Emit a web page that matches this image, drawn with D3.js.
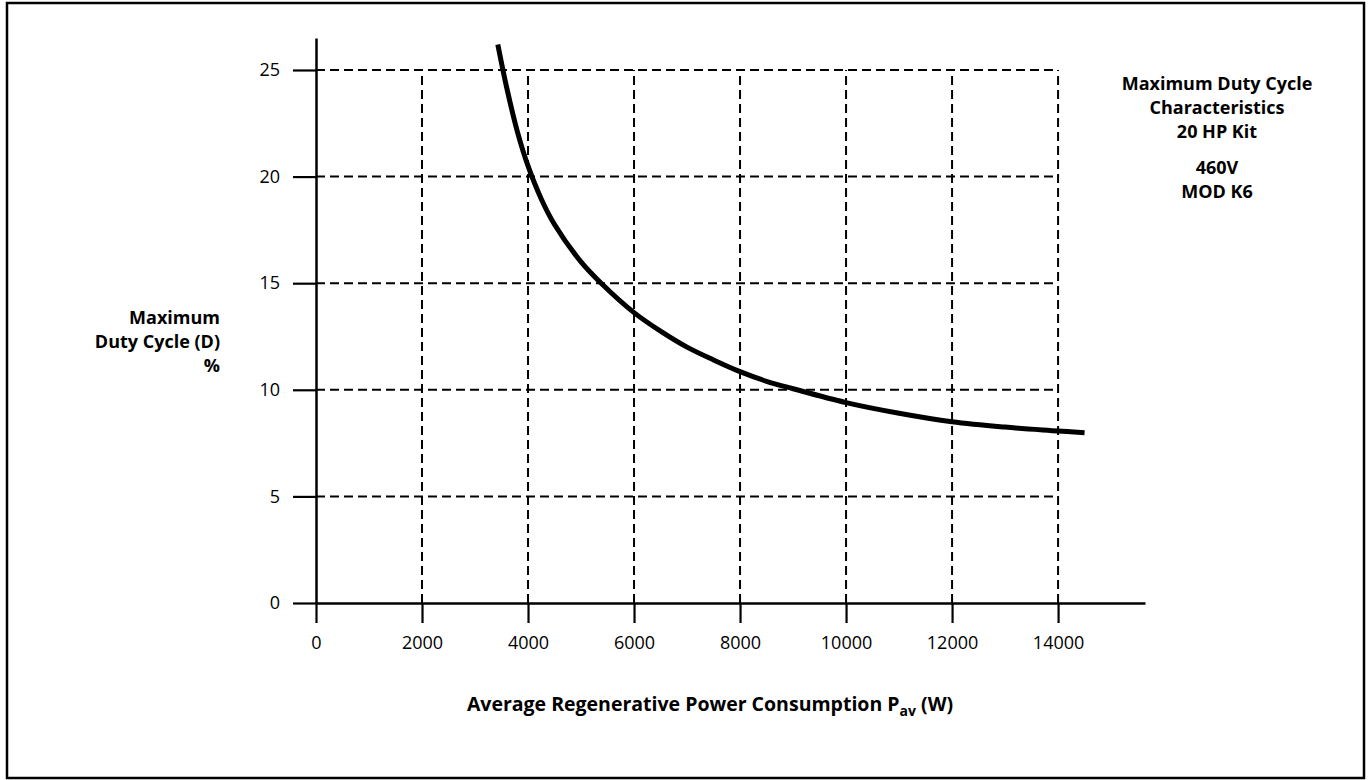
<!DOCTYPE html>
<html>
<head>
<meta charset="utf-8">
<script src="https://cdn.jsdelivr.net/npm/d3@7"></script>
<style>
  body { margin: 0; background: #fff; }
  text { font-family: "Open Sans", sans-serif; fill: #000; }
  .tick text { font-size: 18px; }
  .lbl { font-size: 18px; font-weight: 700; }
  .xlbl { font-size: 19.5px; font-weight: 700; }
</style>
</head>
<body>
<script>
var power = [3430, 3600, 3800, 4000, 4250, 4500, 5000, 5400, 6000, 6500, 7000, 7500, 8000, 8500, 9000, 10000, 11000, 12000, 13000, 14000, 14500];
var duty  = [26.2, 24.15, 22.1, 20.5, 18.95, 17.75, 16.0, 14.95, 13.62, 12.75, 12.0, 11.4, 10.85, 10.4, 10.05, 9.4, 8.9, 8.5, 8.25, 8.07, 7.98];

var xTicks = [0, 2000, 4000, 6000, 8000, 10000, 12000, 14000];
var yTicks = [0, 5, 10, 15, 20, 25];
var xGrid = [2000, 4000, 6000, 8000, 10000, 12000, 14000];
var yGrid = [5, 10, 15, 20, 25];

var titleLines = ["Maximum Duty Cycle", "Characteristics", "20 HP Kit"];
var modelLines = ["460V", "MOD K6"];
var yLabelLines = ["Maximum", "Duty Cycle (D)", "%"];

var width = 1368, height = 780;

var svg = d3.select("body").append("svg")
    .attr("width", width)
    .attr("height", height);

// frame
svg.append("rect")
    .attr("x", 7).attr("y", 3)
    .attr("width", 1357).attr("height", 775)
    .attr("fill", "none")
    .attr("stroke", "#000")
    .attr("stroke-width", 2.5);

var x = d3.scaleLinear().domain([0, 15640]).range([316, 1145]);
var y = d3.scaleLinear().domain([0, 26.5]).range([603, 38]);

// dashed grid
svg.selectAll(".hgrid")
  .data(yGrid)
  .enter().append("line")
  .attr("class", "hgrid")
  .attr("x1", x(0))
  .attr("x2", x(14000))
  .attr("y1", function(d) { return y(d); })
  .attr("y2", function(d) { return y(d); })
  .attr("stroke", "#000")
  .attr("stroke-width", 2)
  .attr("stroke-dasharray", "9,5");

svg.selectAll(".vgrid")
  .data(xGrid)
  .enter().append("line")
  .attr("class", "vgrid")
  .attr("x1", function(d) { return x(d); })
  .attr("x2", function(d) { return x(d); })
  .attr("y1", y(0))
  .attr("y2", y(25))
  .attr("stroke", "#000")
  .attr("stroke-width", 2)
  .attr("stroke-dasharray", "9,5");

// axes
var xAxis = svg.append("g")
    .attr("transform", "translate(0," + y(0) + ")")
    .call(d3.axisBottom(x).tickValues(xTicks).tickSize(20).tickSizeOuter(0).tickPadding(13).tickFormat(d3.format("d")));

var yAxis = svg.append("g")
    .attr("transform", "translate(" + x(0) + ",0)")
    .call(d3.axisLeft(y).tickValues(yTicks).tickSize(23).tickSizeOuter(0).tickPadding(13));

xAxis.select(".domain").attr("stroke-width", 2.5);
yAxis.select(".domain").attr("stroke-width", 2.5);
xAxis.selectAll(".tick line").attr("stroke-width", 2.2);
yAxis.selectAll(".tick line").attr("stroke-width", 2.2);
svg.selectAll(".tick text").attr("font-family", null).attr("font-size", null);

// curve
var line = d3.line()
    .x(function(d, i) { return x(power[i]); })
    .y(function(d, i) { return y(duty[i]); })
    .curve(d3.curveCatmullRom);

svg.append("path")
    .datum(duty)
    .attr("d", line)
    .attr("fill", "none")
    .attr("stroke", "#000")
    .attr("stroke-width", 5)
    .attr("stroke-linecap", "butt");

// labels
svg.selectAll(".title")
  .data(titleLines)
  .enter().append("text")
  .attr("class", "lbl")
  .attr("text-anchor", "middle")
  .attr("x", 1217)
  .attr("y", function(d, i) { return 90 + i * 24; })
  .text(function(d) { return d; });

svg.selectAll(".model")
  .data(modelLines)
  .enter().append("text")
  .attr("class", "lbl")
  .attr("text-anchor", "middle")
  .attr("x", 1217)
  .attr("y", function(d, i) { return 174 + i * 24; })
  .text(function(d) { return d; });

svg.selectAll(".ylab")
  .data(yLabelLines)
  .enter().append("text")
  .attr("class", "lbl")
  .attr("text-anchor", "end")
  .attr("x", 220)
  .attr("y", function(d, i) { return 324 + i * 24; })
  .text(function(d) { return d; });

var xl = svg.append("text")
    .attr("class", "xlbl")
    .attr("text-anchor", "middle")
    .attr("x", 710)
    .attr("y", 711);
xl.append("tspan").text("Average Regenerative Power Consumption P");
xl.append("tspan").attr("dy", 5).attr("font-size", "14px").text("av");
xl.append("tspan").attr("dy", -5).text(" (W)");
</script>
</body>
</html>
